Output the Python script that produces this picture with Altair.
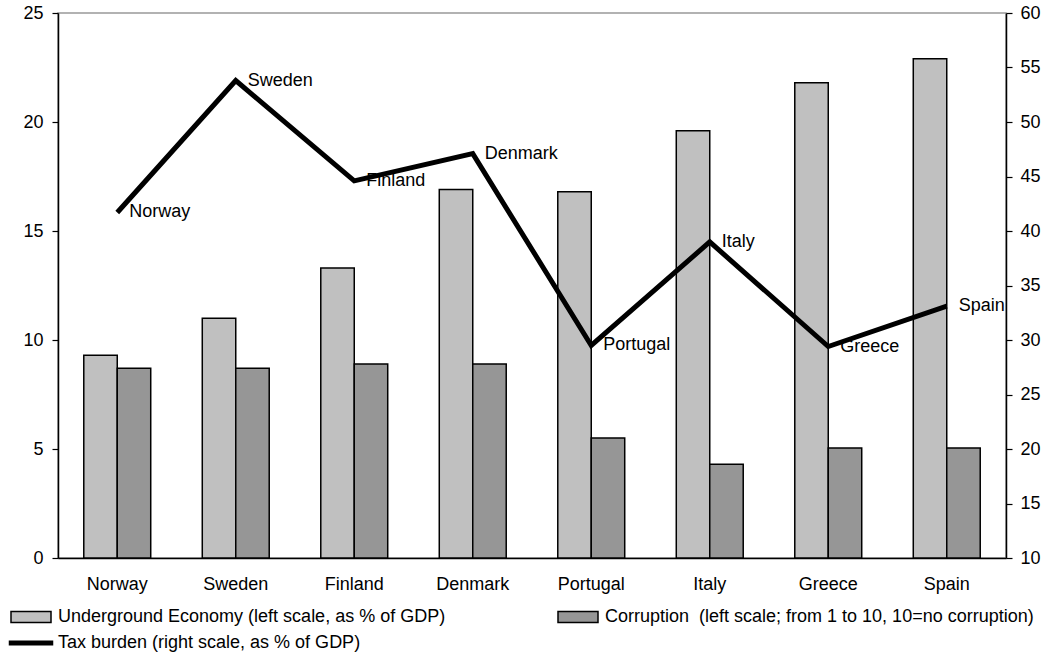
import altair as alt
import pandas as pd

countries = ["Norway", "Sweden", "Finland", "Denmark", "Portugal", "Italy", "Greece", "Spain"]
underground = [9.3, 11.0, 13.3, 16.9, 16.8, 19.6, 21.8, 22.9]
corruption = [8.7, 8.7, 8.9, 8.9, 5.5, 4.3, 5.05, 5.05]
tax_burden = [41.7, 53.8, 44.6, 47.1, 29.5, 39.0, 29.4, 33.1]

series_names = [
    "Underground Economy (left scale, as % of GDP)",
    "Corruption\u00a0 (left scale; from 1 to 10, 10=no corruption)",
    "Tax burden (right scale, as % of GDP)",
]
series_colors = ["#c0c0c0", "#969696", "#000000"]
left_ticks = [0, 5, 10, 15, 20, 25]
right_ticks = [10, 15, 20, 25, 30, 35, 40, 45, 50, 55, 60]

FONT = "Liberation Sans"
FS = 18

bars_df = pd.DataFrame({
    "country": countries * 2,
    "series": [series_names[0]] * len(countries) + [series_names[1]] * len(countries),
    "value": underground + corruption,
})
line_df = pd.DataFrame({"country": countries, "tax": tax_burden, "series": series_names[2]})

x_scale = alt.Scale(domain=countries, paddingInner=0.435, paddingOuter=0.2175)
x_axis = alt.Axis(title=None, labelAngle=0, ticks=False, labelPadding=17)
rect_path = "M-2,-0.55L2,-0.55L2,0.55L-2,0.55Z"
line_path = "M-2.15,-0.18L2.15,-0.18L2.15,0.18L-2.15,0.18Z"

bars = alt.Chart(bars_df).mark_bar(stroke="black", strokeWidth=1.5).encode(
    x=alt.X("country:N", scale=x_scale, sort=countries, axis=x_axis),
    xOffset=alt.XOffset("series:N", scale=alt.Scale(domain=series_names[:2], paddingInner=0, paddingOuter=0)),
    y=alt.Y("value:Q", scale=alt.Scale(domain=[0, 25], nice=False),
            axis=alt.Axis(orient="left", values=left_ticks, title=None, tickSize=6, labelPadding=9)),
    fill=alt.Fill("series:N", scale=alt.Scale(domain=series_names[:2], range=series_colors[:2]), legend=None),
)

y_right = alt.Y("tax:Q", scale=alt.Scale(domain=[10, 60], nice=False, zero=False),
                axis=alt.Axis(orient="right", values=right_ticks, title=None, tickSize=6, labelPadding=8))

line = alt.Chart(line_df).mark_line(color="black", strokeWidth=5, strokeJoin="miter").encode(
    x=alt.X("country:N", scale=x_scale, sort=countries, axis=x_axis),
    y=y_right,
)
labels = alt.Chart(line_df).mark_text(align="left", baseline="middle", dx=12, font=FONT, fontSize=FS, color="black").encode(
    x=alt.X("country:N", scale=x_scale, sort=countries, axis=x_axis),
    y=y_right,
    text="country:N",
)
# legend grid fills column by column: column 1 = Underground, Tax; column 2 = Corruption
legend_order = [series_names[0], series_names[2], series_names[1]]
legend_pts = alt.Chart(line_df).transform_filter("false").mark_point(filled=True, opacity=1, stroke="black", strokeWidth=1.5).encode(
    x=alt.X("country:N", scale=x_scale, sort=countries, axis=x_axis),
    y=y_right,
    color=alt.Color("series:N", scale=alt.Scale(domain=series_names, range=series_colors),
                    legend=alt.Legend(title=None, values=legend_order)),
    shape=alt.Shape("series:N", scale=alt.Scale(domain=series_names, range=[rect_path, rect_path, line_path]),
                    legend=alt.Legend(title=None, values=legend_order)),
)

right = alt.layer(line, labels, legend_pts)

chart = alt.layer(bars, right).resolve_scale(y="independent").properties(
    width=948, height=545,
    padding={"left": 58, "top": 13, "right": 55, "bottom": 96},
    autosize=alt.AutoSizeParams(type="none"),
).configure_view(
    stroke="#999999", strokeWidth=1.5
).configure_axis(
    labelFont=FONT, labelFontSize=FS, labelColor="black",
    domainColor="black", domainWidth=1.5, tickColor="black", tickWidth=1.2, grid=False,
).configure_legend(
    orient="none", legendX=-38, legendY=593, columns=2, columnPadding=109, rowPadding=6,
    labelFont=FONT, labelFontSize=FS, labelColor="black", labelLimit=0, labelOffset=16,
    symbolSize=400, symbolStrokeColor="black", symbolStrokeWidth=1.5, padding=0,
)

chart.save("out.html", embed_options={"renderer": "svg", "actions": False})
